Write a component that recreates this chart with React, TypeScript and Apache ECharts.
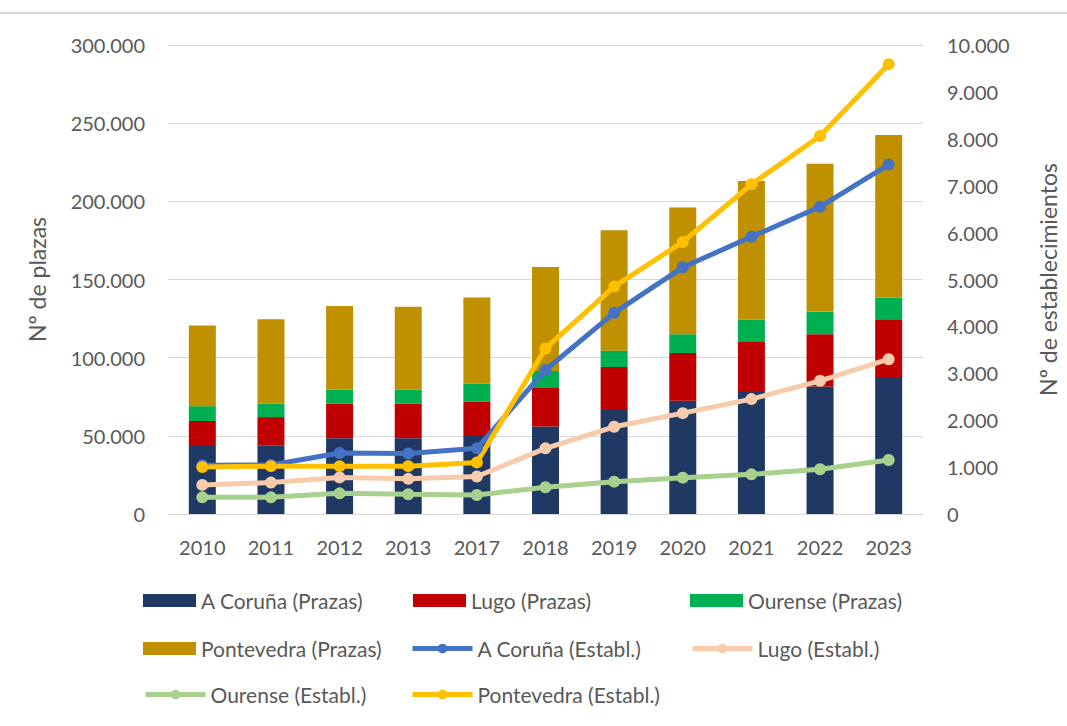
import React, { useEffect, useRef } from "react";
import * as echarts from "echarts";

const categories = ["2010", "2011", "2012", "2013", "2017", "2018", "2019", "2020", "2021", "2022", "2023"];
const coruPrazas = [43500, 44000, 48500, 48500, 50500, 56000, 66500, 72500, 78000, 81500, 87000];
const lugoPrazas = [16000, 18000, 22000, 22000, 21500, 25000, 27500, 30500, 32000, 33500, 37500];
const ourensePrazas = [9500, 8500, 9000, 9000, 11500, 10500, 10500, 12000, 14500, 14500, 14000];
const pontePrazas = [51500, 54000, 53500, 53000, 55000, 66500, 77000, 81000, 88500, 94500, 104000];
const coruEst = [1040, 1045, 1300, 1290, 1400, 3070, 4290, 5260, 5910, 6550, 7450];
const lugoEst = [620, 670, 780, 750, 800, 1400, 1860, 2150, 2450, 2840, 3300];
const ourenseEst = [355, 355, 440, 420, 405, 570, 690, 775, 845, 955, 1150];
const ponteEst = [1000, 1020, 1020, 1020, 1100, 3530, 4850, 5800, 7030, 8060, 9590];

const FONT = "Lato";
const TXT = "#595959";

const fmt = (v: number) => String(Math.round(v)).replace(/\B(?=(\d{3})+(?!\d))/g, ".");

export default function App() {
  const ref = useRef<HTMLDivElement>(null);
  useEffect(() => {
    if (!ref.current) return;
    const chart = echarts.init(ref.current, undefined, { renderer: "svg" });
    const barNames = ["A Coruña (Prazas)", "Lugo (Prazas)", "Ourense (Prazas)", "Pontevedra (Prazas)"];
    const barColors = ["#1f3864", "#c00000", "#00b050", "#bf9000"];
    const barData = [coruPrazas, lugoPrazas, ourensePrazas, pontePrazas];
    const lineNames = ["A Coruña (Establ.)", "Lugo (Establ.)", "Ourense (Establ.)", "Pontevedra (Establ.)"];
    const lineColors = ["#4472c4", "#f8cbad", "#a9d18e", "#ffc000"];
    const lineData = [coruEst, lugoEst, ourenseEst, ponteEst];

    const legendPos: [string, number, number][] = [
      ["A Coruña (Prazas)", 143, 603],
      ["Lugo (Prazas)", 413, 603],
      ["Ourense (Prazas)", 690, 603],
      ["Pontevedra (Prazas)", 143, 651],
      ["A Coruña (Establ.)", 410, 651],
      ["Lugo (Establ.)", 690, 651],
      ["Ourense (Establ.)", 143, 697],
      ["Pontevedra (Establ.)", 410, 697],
    ];

    const legends = legendPos.map(([name, x, y]) => {
      const isBar = name.includes("Prazas");
      return {
        data: [{ name, icon: isBar ? "rect" : undefined }],
        left: x,
        top: y - 13,
        padding: 0,
        itemWidth: isBar ? 53 : 60,
        itemHeight: isBar ? 13 : 12,
        itemGap: 0,
        lineStyle: { width: 5 },
        textStyle: { color: TXT, fontSize: 21, fontFamily: FONT },
        selectedMode: false,
      };
    });

    chart.setOption({
      animation: false,
      textStyle: { fontFamily: FONT },
      graphic: [
        { type: "line", shape: { x1: 0, y1: 13, x2: 1067, y2: 13 }, style: { stroke: "#d6d6d6", lineWidth: 2 } },
      ],
      legend: legends,
      grid: { left: 168, right: 133, top: 45, bottom: 212 },
      xAxis: {
        type: "category",
        data: categories,
        axisLine: { show: true, lineStyle: { color: "#d9d9d9", width: 1 } },
        axisTick: { show: false },
        axisLabel: { color: TXT, fontSize: 20, fontFamily: FONT, margin: 23 },
      },
      yAxis: [
        {
          type: "value",
          min: 0,
          max: 300000,
          interval: 50000,
          name: "Nº de plazas",
          nameLocation: "middle",
          nameRotate: 90,
          nameGap: 120,
          nameTextStyle: { color: TXT, fontSize: 23, fontFamily: FONT },
          axisLabel: { color: TXT, fontSize: 20, fontFamily: FONT, margin: 23, formatter: fmt },
          splitLine: { lineStyle: { color: "#d9d9d9", width: 1 } },
          axisLine: { show: false },
          axisTick: { show: false },
        },
        {
          type: "value",
          min: 0,
          max: 10000,
          interval: 1000,
          name: "Nº de establecimientos",
          nameLocation: "middle",
          nameRotate: 90,
          nameGap: 113,
          nameTextStyle: { color: TXT, fontSize: 23, fontFamily: FONT },
          axisLabel: { color: TXT, fontSize: 20, fontFamily: FONT, margin: 24, formatter: fmt },
          splitLine: { show: false },
          axisLine: { show: false },
          axisTick: { show: false },
        },
      ],
      series: [
        ...barNames.map((n, i) => ({
          name: n,
          type: "bar",
          stack: "prazas",
          data: barData[i],
          barWidth: 27,
          itemStyle: { color: barColors[i] },
          yAxisIndex: 0,
        })),
        ...lineNames.map((n, i) => ({
          name: n,
          type: "line",
          data: lineData[i],
          yAxisIndex: 1,
          symbol: "circle",
          symbolSize: 12,
          lineStyle: { color: lineColors[i], width: 5 },
          itemStyle: { color: lineColors[i] },
          z: 3,
        })),
      ],
    });
    return () => chart.dispose();
  }, []);
  return (
    <div
      ref={ref}
      style={{ position: "fixed", left: 0, top: 0, width: 1067, height: 726, background: "#fff" }}
    />
  );
}
